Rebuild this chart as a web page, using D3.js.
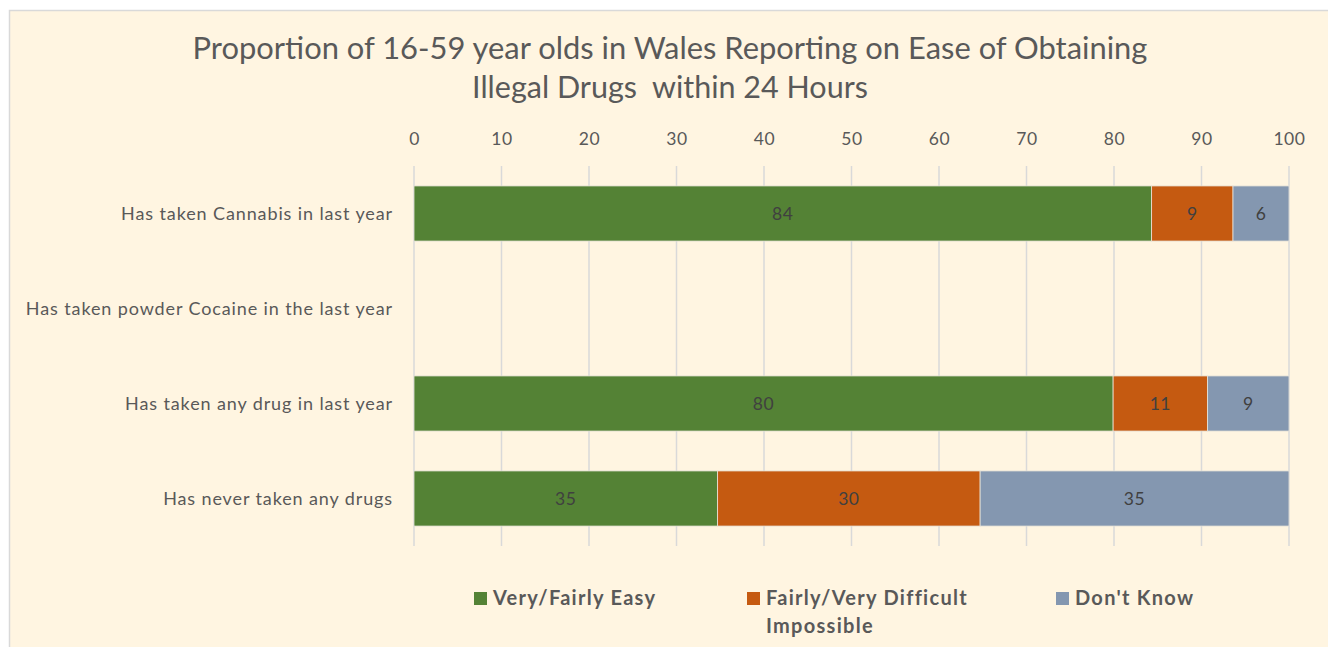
<!DOCTYPE html>
<html><head><meta charset="utf-8">
<script src="https://cdn.jsdelivr.net/npm/d3@7"></script>
<style>
html,body{margin:0;padding:0;background:#fff;}
text{font-family:Lato,"Open Sans",sans-serif;}
</style></head>
<body><svg id="c" width="1328" height="647"></svg>
<script>
const categories = ["Has taken Cannabis in last year","Has taken powder Cocaine in the last year","Has taken any drug in last year","Has never taken any drugs"];
const easy = [84.3, null, 79.9, 34.7];
const difficult = [9.3, null, 10.8, 30.0];
const dontKnow = [6.4, null, 9.3, 35.3];
const seriesNames = ["Very/Fairly Easy","Fairly/Very Difficult\nImpossible","Don't Know"];
const colors = ["#548235","#C55A11","#8497B0"];
const tickValues = [0,10,20,30,40,50,60,70,80,90,100];
const titleLines = ["Proportion of 16-59 year olds in Wales Reporting on Ease of Obtaining","Illegal Drugs  within 24 Hours"];

const svg = d3.select("#c");
svg.append("rect").attr("x",9.5).attr("y",10.5).attr("width",1330).attr("height",650)
  .attr("fill","#FFF5E1").attr("stroke","#D9D9D9").attr("stroke-width",1.5);

const fit = (sel, w) => { sel.each(function(){ const l=this.getComputedTextLength(); const fs=parseFloat(d3.select(this).attr("font-size")); d3.select(this).attr("font-size", fs*w/l); }); };
// letter-spacing so that a reference text reaches a target width
const spacingFor = (sel, w) => { const n = sel.node(); const l = n.getComputedTextLength(); const chars = n.textContent.length; return (w - l)/Math.max(1,chars-1); };

const title = svg.append("g");
title.append("text").attr("x",670).attr("y",59).attr("text-anchor","middle").attr("font-size",26).attr("fill","#595959").text(titleLines[0]).call(fit,955);
title.append("text").attr("x",670).attr("y",98).attr("text-anchor","middle").attr("font-size",26).attr("fill","#595959").style("white-space","pre").text(titleLines[1]).call(fit,396);

const x = d3.scaleLinear().domain([0,100]).range([414,1289]);
const y = d3.scaleBand().domain(categories).range([166,546]).paddingInner(0.42).paddingOuter(0.21);

svg.append("g").selectAll("line").data(tickValues).join("line")
  .attr("x1",d=>x(d)).attr("x2",d=>x(d)).attr("y1",166).attr("y2",546)
  .attr("stroke","#D9D9D9").attr("stroke-width",1.5);

const ax = svg.append("g").attr("transform","translate(0,145)").call(d3.axisTop(x).tickValues(tickValues).tickSize(0).tickPadding(0));
ax.select(".domain").remove();
ax.selectAll("text").attr("font-size",17.5).attr("fill","#595959").attr("font-family","Lato,sans-serif").attr("letter-spacing",0.6);

// category labels
const catText = svg.append("g").selectAll("text").data(categories).join("text")
  .attr("x",393).attr("y",d=>y(d)+y.bandwidth()/2).attr("dy","0.35em").attr("text-anchor","end")
  .attr("font-size",18).attr("fill","#595959").text(d=>d);
const ls = spacingFor(catText.filter((d,i)=>i===0), 271);
catText.attr("letter-spacing", ls);

const seriesData = [easy, difficult, dontKnow];
const rows = categories.map((c,i)=>({cat:c, v:seriesData.map(s=>s[i])}));
const segs = [];
rows.forEach(r=>{ let acc=0; r.v.forEach((v,j)=>{ if(v!=null){ segs.push({cat:r.cat,x0:acc,x1:acc+v,v:v,j:j}); acc+=v; } }); });

const g = svg.append("g");
g.selectAll("rect").data(segs).join("rect")
  .attr("x",d=>x(d.x0)).attr("width",d=>x(d.x1)-x(d.x0))
  .attr("y",d=>y(d.cat)).attr("height",y.bandwidth())
  .attr("fill",d=>colors[d.j]).attr("stroke","#E8E4DA").attr("stroke-width",0.8);
g.selectAll("text").data(segs).join("text")
  .attr("x",d=>(x(d.x0)+x(d.x1))/2).attr("y",d=>y(d.cat)+y.bandwidth()/2).attr("dy","0.35em")
  .attr("text-anchor","middle").attr("font-size",17.5).attr("fill","#404040").attr("letter-spacing",0.6).text(d=>Math.round(d.v));

// legend
const legX = [474, 747, 1056];
const leg = svg.append("g");
const legTexts = [];
seriesNames.forEach((n,i)=>{
  leg.append("rect").attr("x",legX[i]).attr("y",592).attr("width",13).attr("height",13).attr("fill",colors[i]);
  const t = leg.append("text").attr("x",legX[i]+19).attr("y",605).attr("font-size",20).attr("font-weight","bold").attr("fill","#595959");
  n.split("\n").forEach((line,k)=>{ t.append("tspan").attr("x",legX[i]+19).attr("dy",k?28:0).text(line); });
  legTexts.push(t);
});
const lls = spacingFor(legTexts[0], 162);
legTexts.forEach(t=>t.attr("letter-spacing", lls));
</script></body></html>
